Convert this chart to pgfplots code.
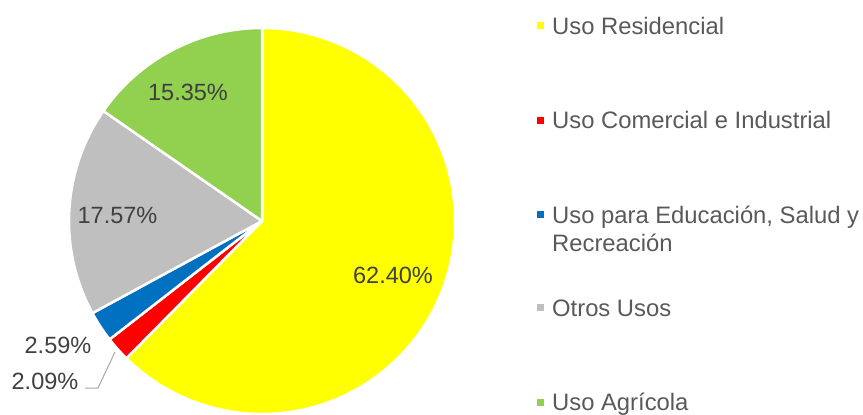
\documentclass[border=0pt]{standalone}
\usepackage{pgfplots}
\pgfplotsset{compat=1.18}
\usepackage{fontspec}
\setmainfont{Liberation Sans}
\definecolor{cRes}{HTML}{FFFF00}
\definecolor{cCom}{HTML}{FF0000}
\definecolor{cEdu}{HTML}{0070C0}
\definecolor{cOtr}{HTML}{BFBFBF}
\definecolor{cAgr}{HTML}{92D050}
\definecolor{lbl}{HTML}{404040}
\definecolor{leg}{HTML}{595959}
\definecolor{lead}{HTML}{A6A6A6}
% data (percent)
\def\vRes{62.40}
\def\vCom{2.09}
\def\vEdu{2.59}
\def\vOtr{17.57}
\def\vAgr{15.35}
\newcommand\slice[3]{% start pct, pct, colour
  \pgfmathsetmacro\sa{90-(#1)*3.6}%
  \pgfmathsetmacro\ea{90-((#1)+(#2))*3.6}%
  \edef\tmp{\noexpand\filldraw[fill=#3, draw=white, line width=2.5bp, line join=round]
    (axis cs:262,193) -- +(\sa:193bp) arc[start angle=\sa, end angle=\ea, radius=193bp] -- cycle;}%
  \tmp
}
\begin{document}
\begin{tikzpicture}
\begin{axis}[x=1bp, y=1bp, xmin=0, xmax=863, ymin=0, ymax=414,
  scale only axis, hide axis, clip=false]
\coordinate (LL) at (axis cs:0,0);
\coordinate (UR) at (axis cs:863,414);
\slice{0}{\vRes}{cRes}
\pgfmathsetmacro\sB{\vRes}
\slice{\sB}{\vCom}{cCom}
\pgfmathsetmacro\sC{\vRes+\vCom}
\slice{\sC}{\vEdu}{cEdu}
\pgfmathsetmacro\sD{\vRes+\vCom+\vEdu}
\slice{\sD}{\vOtr}{cOtr}
\pgfmathsetmacro\sE{\vRes+\vCom+\vEdu+\vOtr}
\slice{\sE}{\vAgr}{cAgr}
% data labels
\begin{scope}[every node/.style={text=lbl, font=\fontsize{23.5bp}{28bp}\selectfont, inner sep=0pt}]
\node at (axis cs:393,139) {62.40\%};
\node at (axis cs:188,322) {15.35\%};
\node at (axis cs:117.5,198.5) {17.57\%};
\node at (axis cs:58,69) {2.59\%};
\node at (axis cs:45,33) {2.09\%};
\end{scope}
\draw[lead, line width=1bp] (axis cs:85,26) -- (axis cs:98,26) -- (axis cs:115,62);
% legend
\begin{scope}[every node/.style={text=leg, font=\fontsize{23.8bp}{28bp}\selectfont, inner sep=0pt, anchor=base west}]
\fill[cRes] (axis cs:537,384.5) rectangle (axis cs:544,391.5);
\node at (axis cs:552,380) {Uso Residencial};
\fill[cCom] (axis cs:537,290.5) rectangle (axis cs:544,297.5);
\node at (axis cs:552,286) {Uso Comercial e Industrial};
\fill[cEdu] (axis cs:537,196.5) rectangle (axis cs:544,203.5);
\node at (axis cs:552,191) {Uso para Educación, Salud y};
\node at (axis cs:552,163) {Recreación};
\fill[cOtr] (axis cs:537,103.5) rectangle (axis cs:544,110.5);
\node at (axis cs:552,98) {Otros Usos};
\fill[cAgr] (axis cs:537,8.5) rectangle (axis cs:544,15.5);
\node at (axis cs:552,4) {Uso Agrícola};
\end{scope}
\end{axis}
\pgfresetboundingbox
\path (LL) rectangle (UR);
\end{tikzpicture}
\end{document}
